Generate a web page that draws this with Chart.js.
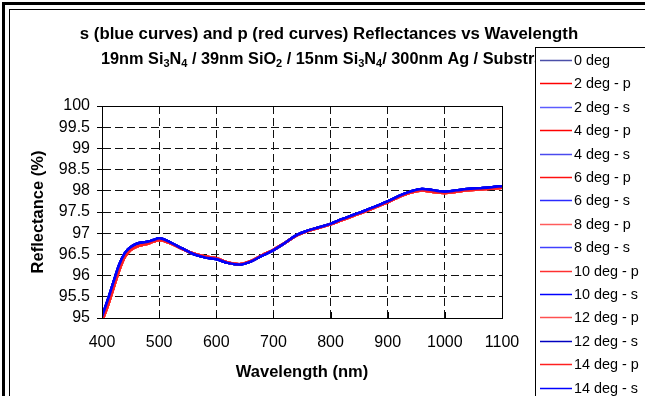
<!DOCTYPE html>
<html>
<head>
<meta charset="utf-8">
<script src="https://cdn.jsdelivr.net/npm/chart.js@4.4.1/dist/chart.umd.min.js"></script>
<style>
  html, body { margin: 0; padding: 0; background: #fff; }
  #wrap { width: 645px; height: 396px; overflow: hidden; }
</style>
</head>
<body>
<div id="wrap"><canvas id="reflChart" width="645" height="396"></canvas></div>
<script>
// wavelength in nm, reflectance in %
const wavelengths = [400, 410, 420, 430, 440, 450, 460, 470, 480, 490, 500, 520, 540, 560, 580, 600, 620, 640, 660, 680, 700,
  720, 740, 760, 780, 800, 820, 840, 860, 880, 900, 920, 940, 960, 980, 1000, 1020, 1040, 1060, 1080, 1100];
// 0 deg and all s curves (blue)
const reflS = [95.03, 95.42, 95.84, 96.25, 96.53, 96.67, 96.75, 96.78, 96.80, 96.84, 96.88, 96.78, 96.64, 96.51, 96.43, 96.39,
  96.30, 96.26, 96.33, 96.47, 96.60, 96.77, 96.95, 97.06, 97.14, 97.22, 97.33, 97.43, 97.53, 97.64, 97.75, 97.88, 97.98,
  98.04, 98.01, 97.98, 98.01, 98.04, 98.06, 98.08, 98.11];
// p curves (red)
const reflP = [94.92, 95.28, 95.70, 96.12, 96.44, 96.60, 96.68, 96.72, 96.75, 96.80, 96.84, 96.76, 96.63, 96.52, 96.45, 96.41,
  96.31, 96.27, 96.34, 96.48, 96.61, 96.77, 96.94, 97.05, 97.13, 97.21, 97.31, 97.41, 97.51, 97.62, 97.73, 97.86, 97.96,
  98.01, 97.97, 97.95, 97.98, 98.01, 98.03, 98.05, 98.07];

const seriesNames = ['0 deg', '2 deg - p', '2 deg - s', '4 deg - p', '4 deg - s', '6 deg - p', '6 deg - s', '8 deg - p',
  '8 deg - s', '10 deg - p', '10 deg - s', '12 deg - p', '12 deg - s', '14 deg - p', '14 deg - s'];
const seriesColors = ['#4b4fa8', '#ff0000', '#5c5cff', '#ff0000', '#4a4aee', '#ff1010', '#2a2aff', '#ff5c5c',
  '#4040ff', '#ff3030', '#0000ff', '#ff5050', '#0000c0', '#ff2020', '#0000ff'];

const titleLine1 = 's (blue curves) and p (red curves) Reflectances vs Wavelength';
// [text, subscript?]
const titleLine2 = [['19nm Si'], ['3', 1], ['N'], ['4', 1], [' / 39nm SiO'], ['2', 1], [' / 15nm Si'], ['3', 1], ['N'], ['4', 1],
  ['/ 300nm Ag / Substrate']];

const FONT = 'Arial, "Liberation Sans", sans-serif';

const datasets = seriesNames.map((name, i) => ({
  label: name,
  data: wavelengths.map((w, j) => ({ x: w, y: (name.endsWith('- p') ? reflP : reflS)[j] })),
  borderColor: seriesColors[i],
  order: seriesNames.length - i   // last series ends up on top
}));

const framePlugin = {
  id: 'frame',
  beforeDraw(chart) {
    const c = chart.ctx;
    c.save();
    c.fillStyle = '#fff';
    c.fillRect(0, 0, chart.width, chart.height);
    c.strokeStyle = '#000';
    c.lineWidth = 3;
    c.strokeRect(3.5, 3.5, 800, 600);
    c.lineWidth = 1;
    c.strokeRect(9.5, 9.5, 800, 600);
    c.restore();
  },
  afterDraw(chart) {
    const c = chart.ctx;
    const a = chart.chartArea;
    const xs = chart.scales.x;
    c.save();
    // plot border
    c.strokeStyle = '#000';
    c.lineWidth = 1;
    c.strokeRect(Math.round(a.left) + 0.5, Math.round(a.top) + 0.5, Math.round(a.right - a.left), Math.round(a.bottom - a.top));
    // x tick marks pointing inward
    c.beginPath();
    xs.ticks.forEach(t => {
      const px = Math.round(xs.getPixelForValue(t.value)) + 0.5;
      c.moveTo(px, a.bottom);
      c.lineTo(px, a.bottom - 6);
    });
    c.stroke();

    // title
    c.fillStyle = '#000';
    c.textBaseline = 'alphabetic';
    c.font = 'bold 16.8px ' + FONT;
    c.textAlign = 'center';
    c.fillText(titleLine1, 329, 39);
    c.textAlign = 'left';
    let x = 101;
    titleLine2.forEach(([txt, sub]) => {
      c.font = (sub ? 'bold 11px ' : 'bold 16.3px ') + FONT;
      c.fillText(txt, x, sub ? 67 : 64);
      x += c.measureText(txt).width;
    });

    // legend box
    c.fillStyle = '#fff';
    c.fillRect(535, 47, 200, 400);
    c.strokeStyle = '#000';
    c.strokeRect(535.5, 47.5, 200, 400);
    c.font = '14.4px ' + FONT;
    c.textBaseline = 'middle';
    seriesNames.forEach((name, i) => {
      const y = 60 + i * 23.4;
      c.strokeStyle = seriesColors[i];
      c.lineWidth = 1.5;
      c.beginPath();
      c.moveTo(540, Math.round(y) + 0.5);
      c.lineTo(572, Math.round(y) + 0.5);
      c.stroke();
      c.fillStyle = '#000';
      c.fillText(name, 574, y + 1);
    });
    c.restore();
  }
};

new Chart(document.getElementById('reflChart'), {
  type: 'line',
  data: { datasets: datasets },
  options: {
    responsive: false,
    animation: false,
    devicePixelRatio: 1,
    layout: { padding: { left: 0, top: 106, right: 143, bottom: 0 } },
    plugins: {
      legend: { display: false },
      title: { display: false },
      tooltip: { enabled: false }
    },
    elements: {
      point: { radius: 0 },
      line: { borderWidth: 2.5, cubicInterpolationMode: 'monotone' }
    },
    scales: {
      x: {
        type: 'linear',
        min: 400,
        max: 1100,
        ticks: { stepSize: 100, autoSkip: false, maxRotation: 0, color: '#000', font: { family: FONT, size: 16 }, padding: 15,
          callback: v => String(v) },
        grid: { color: '#111', lineWidth: 1, drawTicks: false },
        border: { color: '#000', width: 1, dash: [8, 4] },
        title: { display: true, text: 'Wavelength (nm)', color: '#000', font: { family: FONT, size: 16.5, weight: 'bold' },
          padding: { top: 0, bottom: 14 } },
        afterFit: s => { s.height = 78; }
      },
      y: {
        min: 95,
        max: 100,
        ticks: { stepSize: 0.5, autoSkip: false, color: '#000', font: { family: FONT, size: 16 }, padding: 7,
          callback: v => String(Math.round(v * 10) / 10) },
        grid: { color: '#111', lineWidth: 1, drawTicks: true, tickLength: 5, tickColor: '#000', tickBorderDash: [] },
        border: { color: '#000', width: 1, dash: [8, 4] },
        title: { display: true, text: 'Reflectance (%)', color: '#000', font: { family: FONT, size: 16.5, weight: 'bold' },
          padding: { top: 29, bottom: 0 } },
        afterFit: s => { s.width = 102; }
      }
    }
  },
  plugins: [framePlugin]
});
</script>
</body>
</html>
